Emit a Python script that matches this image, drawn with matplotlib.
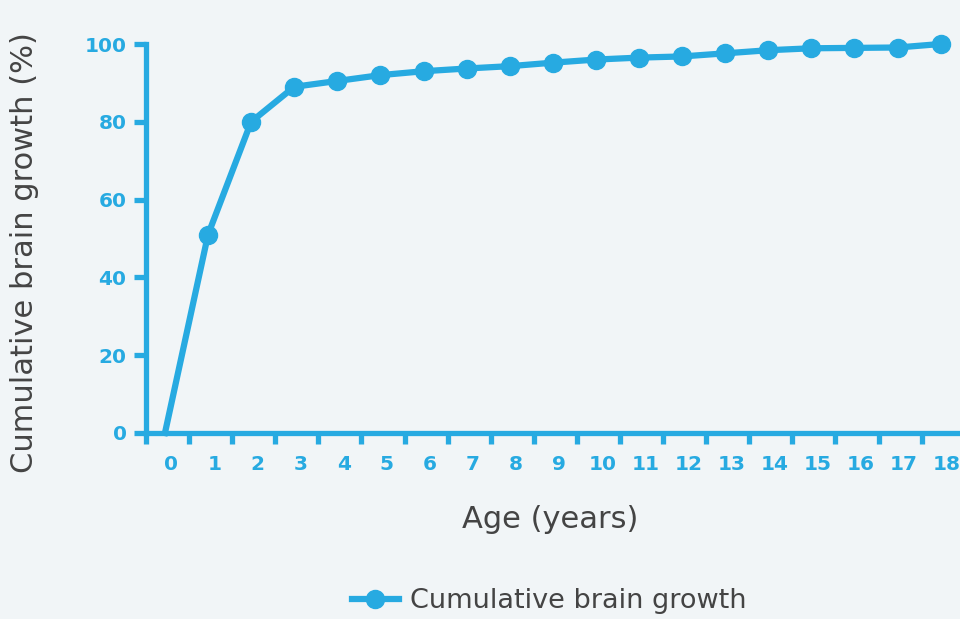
import numpy as np
import matplotlib
matplotlib.use("Agg")
from matplotlib import pyplot as plt

# Data
ages = list(range(0, 19))
growth = [0, 51, 80, 89, 90.5, 92, 93, 93.7, 94.3, 95.2, 96, 96.5, 96.8,
          97.6, 98.4, 98.9, 99, 99.1, 100]
y_ticks = [0, 20, 40, 60, 80, 100]
series_name = "Cumulative brain growth"

blue = "#27aae1"
bg = "#f1f5f7"
grey = "#444444"

fig = plt.figure(figsize=(9.6, 6.19), dpi=100, facecolor=bg)
ax = fig.add_axes([146 / 960, 186 / 619, 814 / 960, 389 / 619])
ax.set_facecolor(bg)

# line, markers only from age 1 on
ax.plot(ages, growth, color=blue, linewidth=4.5, marker="o", markersize=13,
        markevery=list(range(1, len(ages))), clip_on=False, zorder=3,
        label=series_name)

ax.set_xlim(-0.44, 18.45)
ax.set_ylim(0, 100)

for side in ["top", "right"]:
    ax.spines[side].set_visible(False)
for side in ["left", "bottom"]:
    ax.spines[side].set_color(blue)
    ax.spines[side].set_linewidth(3.8)

# y axis
ax.set_yticks(y_ticks)
ax.tick_params(axis="y", which="major", length=9, width=3.8, color=blue,
               pad=5, labelcolor=blue, labelsize=14.5)
for lab in ax.get_yticklabels():
    lab.set_fontweight("bold")

# x axis: tick marks between ages, labels slightly right of the points
ax.set_xticks([-0.44] + [a + 0.56 for a in ages[:-1]])
ax.set_xticklabels([])
ax.set_xticks([a + 0.15 for a in ages], minor=True)
ax.set_xticklabels([str(a) for a in ages], minor=True)
ax.tick_params(axis="x", which="major", length=8, width=3.8, color=blue)
ax.tick_params(axis="x", which="minor", length=0, pad=16, labelcolor=blue,
               labelsize=14.5)
for lab in ax.get_xticklabels(minor=True):
    lab.set_fontweight("bold")

# axis titles
fig.text(25 / 960, 1 - 253 / 619, "Cumulative brain growth (%)", rotation=90,
         ha="center", va="center", fontsize=22, color=grey)
fig.text(550 / 960, 1 - 520 / 619, "Age (years)", ha="center", va="center",
         fontsize=22, color=grey)

fig.legend(loc="center", bbox_to_anchor=(549 / 960, 1 - 601 / 619),
           frameon=False, fontsize=19.5, handlelength=1.75, handletextpad=0.4,
           labelcolor=grey, borderpad=0)

plt.savefig("out.png", dpi=100, facecolor=bg)
